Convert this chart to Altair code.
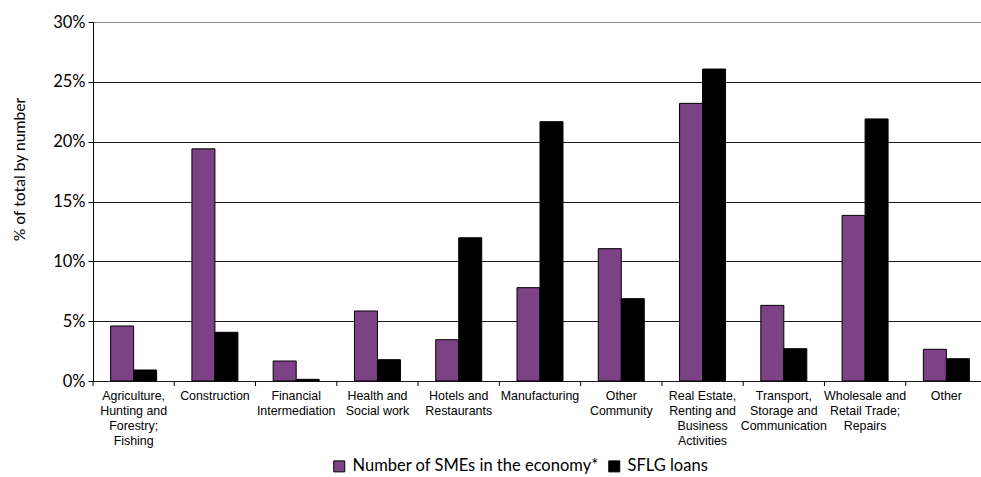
import altair as alt
import pandas as pd

# Sector labels; "|" marks where each axis label wraps onto a new line
categories = [
    "Agriculture,|Hunting and|Forestry;|Fishing",
    "Construction",
    "Financial|Intermediation",
    "Health and|Social work",
    "Hotels and|Restaurants",
    "Manufacturing",
    "Other|Community",
    "Real Estate,|Renting and|Business|Activities",
    "Transport,|Storage and|Communication",
    "Wholesale and|Retail Trade;|Repairs",
    "Other",
]

series = ["Number of SMEs in the economy*", "SFLG loans"]

# Shares of total by number (fractions)
smes_share = [0.046, 0.194, 0.0167, 0.0585, 0.0345, 0.078, 0.1106, 0.232, 0.0632, 0.1384, 0.0265]
sflg_share = [0.0092, 0.0407, 0.0014, 0.0178, 0.1197, 0.2167, 0.0688, 0.2607, 0.027, 0.219, 0.0186]

rows = []
for cat, a, b in zip(categories, smes_share, sflg_share):
    rows.append({"category": cat, "series": series[0], "share": a})
    rows.append({"category": cat, "series": series[1], "share": b})
df = pd.DataFrame(rows)
cat_df = pd.DataFrame({"category": categories})

PLOT_W = 888
PLOT_H = 359

x_scale = alt.Scale(domain=categories, range=[0, 894], paddingInner=0, paddingOuter=0)

bars = alt.Chart(df).mark_bar(stroke="black", strokeWidth=1).encode(
    x=alt.X(
        "category:N",
        sort=categories,
        scale=x_scale,
        title=None,
        axis=alt.Axis(
            labelExpr="split(datum.label, '|')",
            labelAngle=0,
            labelFont="Liberation Sans",
            labelFontSize=12.4,
            labelLineHeight=15,
            labelColor="black",
            labelPadding=8,
            labelOverlap=False,
            labelLimit=200,
            ticks=False,
            domain=False,
            grid=False,
        ),
    ),
    xOffset=alt.XOffset(
        "series:N",
        sort=series,
        scale=alt.Scale(paddingInner=0, paddingOuter=0.767),
    ),
    y=alt.Y(
        "share:Q",
        scale=alt.Scale(domain=[0, 0.30], nice=False),
        title="% of total by number",
        axis=alt.Axis(
            values=[0, 0.05, 0.10, 0.15, 0.20, 0.25, 0.30],
            format=".0%",
            labelFont="Lato",
            labelFontSize=16.5,
            labelColor="black",
            labelPadding=3,
            tickSize=5,
            tickColor="black",
            domainColor="black",
            grid=True,
            gridColor={
                "condition": {"test": "datum.value >= 0.3", "value": "#8c8c8c"},
                "value": "#1a1a1a",
            },
            gridWidth=1,
            titleFont="Lato",
            titleFontSize=15.7,
            titleFontWeight="normal",
            titleColor="black",
            titleAngle=-90,
            titleX=-74,
            titleY=147,
            titleBaseline="middle",
            titleAlign="center",
        ),
    ),
    color=alt.Color(
        "series:N",
        sort=series,
        scale=alt.Scale(domain=series, range=["#7d4285", "#000000"]),
        legend=alt.Legend(
            title=None,
            orient="none",
            direction="horizontal",
            legendX=238,
            legendY=436,
            symbolType="square",
            symbolSize=121,
            symbolStrokeColor="black",
            symbolStrokeWidth=1,
            symbolOpacity=1,
            labelFont="Lato",
            labelFontSize=16.5,
            labelColor="black",
            labelOffset=5,
            columnPadding=7,
            labelLimit=400,
        ),
    ),
)

# Category separator ticks along the bottom axis
ticks = alt.Chart(cat_df).mark_rule(color="black", strokeWidth=1).encode(
    x=alt.X("category:N", sort=categories, scale=x_scale, bandPosition=0),
    y=alt.value(PLOT_H),
    y2=alt.value(PLOT_H + 5),
)

chart = (
    alt.layer(bars, ticks)
    .properties(
        width=PLOT_W,
        height=PLOT_H,
        autosize=alt.AutoSizeParams(type="none"),
        padding={"left": 93, "top": 22, "right": 0, "bottom": 96},
        background="white",
    )
    .configure_view(stroke=None)
)

chart.save("out.html", embed_options={"renderer": "svg", "actions": False})
